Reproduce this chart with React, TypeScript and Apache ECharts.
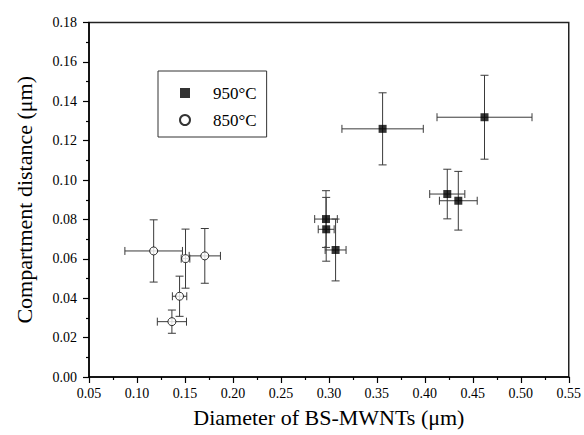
import React, { useEffect, useRef } from "react";
import * as echarts from "echarts";

const seriesNames = ["950°C", "850°C"];

const x950 = [0.297, 0.2972, 0.307, 0.356, 0.4234, 0.4349, 0.4622];
const y950 = [0.0802, 0.075, 0.0645, 0.126, 0.0929, 0.0895, 0.1319];
const xErr950 = [0.0118, 0.0083, 0.0109, 0.0424, 0.0183, 0.0197, 0.0495];
const yErr950 = [0.0144, 0.0162, 0.0157, 0.0183, 0.0126, 0.0149, 0.0213];

const x850 = [0.1174, 0.1506, 0.1707, 0.1444, 0.1364];
const y850 = [0.064, 0.0601, 0.0615, 0.041, 0.0281];
const xErr850 = [0.03, 0.0045, 0.0163, 0.0075, 0.0152];
const yErr850 = [0.0158, 0.015, 0.0139, 0.0102, 0.0059];

const FONT = "Liberation Serif";

function errData(xs: number[], ys: number[], xe: number[], ye: number[]) {
  return xs.map((x, i) => [x, ys[i], xe[i], ye[i]]);
}

function renderErr(params: any, api: any) {
  const x = api.value(0);
  const y = api.value(1);
  const xe = api.value(2);
  const ye = api.value(3);
  const c = api.coord([x, y]);
  const l = api.coord([x - xe, y]);
  const r = api.coord([x + xe, y]);
  const t = api.coord([x, y + ye]);
  const b = api.coord([x, y - ye]);
  const cap = 4;
  const style = { stroke: "#3a3a3a", lineWidth: 1 };
  const line = (x1: number, y1: number, x2: number, y2: number) => ({
    type: "line",
    shape: { x1, y1, x2, y2 },
    style,
  });
  return {
    type: "group",
    children: [
      line(l[0], c[1], r[0], c[1]),
      line(l[0], c[1] - cap, l[0], c[1] + cap),
      line(r[0], c[1] - cap, r[0], c[1] + cap),
      line(c[0], t[1], c[0], b[1]),
      line(c[0] - cap, t[1], c[0] + cap, t[1]),
      line(c[0] - cap, b[1], c[0] + cap, b[1]),
    ],
  };
}

export default function App() {
  const ref = useRef<HTMLDivElement>(null);
  useEffect(() => {
    if (!ref.current) return;
    const chart = echarts.init(ref.current, null, { renderer: "svg" });
    const axisCommon = {
      type: "value",
      axisLine: { show: true, lineStyle: { color: "#000", width: 1.5 } },
      axisTick: { show: true, inside: false, length: 6, lineStyle: { color: "#000", width: 1.2 } },
      minorTick: { show: true, splitNumber: 2, length: 3, lineStyle: { color: "#000", width: 1.2 } },
      splitLine: { show: false },
      nameLocation: "middle",
      nameTextStyle: { fontFamily: FONT, fontSize: 22, color: "#000" },
    };
    chart.setOption({
      animation: false,
      backgroundColor: "#fff",
      textStyle: { fontFamily: FONT },
      grid: {
        left: 89,
        right: 13,
        top: 22.5,
        bottom: 58,
        show: true,
        borderColor: "#222",
        borderWidth: 1.5,
      },
      xAxis: {
        ...axisCommon,
        min: 0.05,
        max: 0.55,
        interval: 0.05,
        name: "Diameter of BS-MWNTs (μm)",
        nameGap: 29,
        axisLabel: {
          fontFamily: FONT,
          fontSize: 14,
          color: "#000",
          margin: 9,
          formatter: (v: number) => v.toFixed(2),
        },
      },
      yAxis: {
        ...axisCommon,
        min: 0,
        max: 0.18,
        interval: 0.02,
        name: "Compartment distance (μm)",
        nameGap: 54,
        axisLabel: {
          fontFamily: FONT,
          fontSize: 14,
          color: "#000",
          margin: 12,
          formatter: (v: number) => v.toFixed(2),
        },
      },
      legend: {
        data: seriesNames,
        orient: "vertical",
        left: 158,
        top: 71,
        backgroundColor: "#fff",
        borderColor: "#333",
        borderWidth: 1,
        padding: [12, 10, 7, 21],
        itemWidth: 10,
        itemHeight: 10,
        itemGap: 7,
        textStyle: {
          fontFamily: FONT,
          fontSize: 17,
          color: "#000",
          lineHeight: 20,
          padding: [0, 0, 0, 18],
        },
      },
      series: [
        {
          type: "custom",
          name: "err950",
          renderItem: renderErr,
          data: errData(x950, y950, xErr950, yErr950),
          z: 1,
          silent: true,
        },
        {
          type: "custom",
          name: "err850",
          renderItem: renderErr,
          data: errData(x850, y850, xErr850, yErr850),
          z: 1,
          silent: true,
        },
        {
          type: "scatter",
          name: seriesNames[0],
          symbol: "rect",
          symbolSize: 8,
          itemStyle: { color: "#000" },
          data: x950.map((x, i) => [x, y950[i]]),
          z: 3,
        },
        {
          type: "scatter",
          name: seriesNames[1],
          symbol: "circle",
          symbolSize: 8,
          itemStyle: { color: "#fff", borderColor: "#000", borderWidth: 1 },
          data: x850.map((x, i) => [x, y850[i]]),
          z: 3,
        },
      ],
    });
    return () => chart.dispose();
  }, []);
  return <div ref={ref} style={{ width: 584, height: 435, position: "absolute", left: 0, top: 0 }} />;
}
